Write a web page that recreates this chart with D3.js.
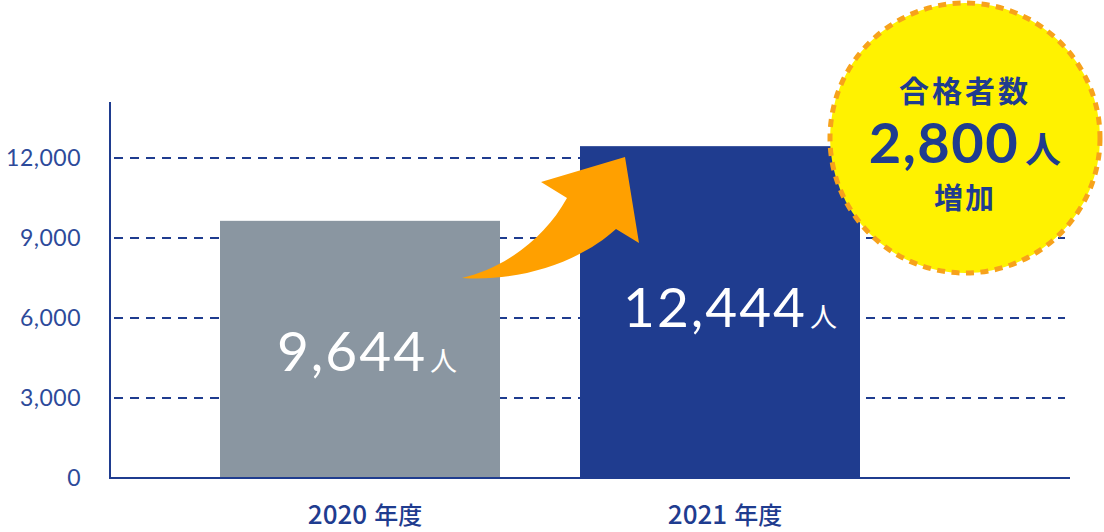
<!DOCTYPE html>
<html>
<head>
<meta charset="utf-8">
<script src="https://cdn.jsdelivr.net/npm/d3@7"></script>
<style>
  html, body { margin: 0; padding: 0; background: #fff; }
  svg { display: block; }
</style>
</head>
<body>
<div id="chart"></div>
<script>
// Data
const years = ["2020", "2021"]
const counts = [9644, 12444]
const yTicks = [0, 3000, 6000, 9000, 12000]
const increase = 2800

const BLUE = "#1f3c8f"
const GRAY = "#8a96a1"
const ORANGE = "#ffa000"

const width = 1104
const height = 532

const svg = d3.select("#chart").append("svg")
  .attr("width", width)
  .attr("height", height)
  .attr("viewBox", `0 0 ${width} ${height}`)

// Scales
const x = d3.scaleBand()
  .domain(years)
  .range([160, 920])
  .paddingInner(80 / 360)
  .paddingOuter(1 / 6)

const y = d3.scaleLinear()
  .domain([0, 14100])
  .range([478, 102])

const axisLeft = 110
const axisRight = 1070

// Dashed gridlines
svg.append("g")
  .selectAll("line")
  .data(yTicks.filter(d => d > 0))
  .enter().append("line")
  .attr("x1", axisLeft)
  .attr("x2", axisRight - 5)
  .attr("y1", d => y(d))
  .attr("y2", d => y(d))
  .attr("stroke", BLUE)
  .attr("stroke-width", 2)
  .attr("stroke-dasharray", "9,7")
  .attr("stroke-dashoffset", -4)

// Y tick labels
svg.append("g")
  .selectAll("text")
  .data(yTicks)
  .enter().append("text")
  .attr("x", 81)
  .attr("y", d => y(d))
  .attr("dy", "0.36em")
  .attr("text-anchor", "end")
  .attr("font-family", "Lato, 'Noto Sans', sans-serif")
  .attr("font-size", 23)
  .attr("letter-spacing", 0.5)
  .attr("fill", "#2d4a9a")
  .text(d => d3.format(",")(d))

// Bars
svg.append("g")
  .selectAll("rect")
  .data(counts)
  .enter().append("rect")
  .attr("x", (d, i) => x(years[i]))
  .attr("y", d => y(d))
  .attr("width", x.bandwidth())
  .attr("height", d => y(0) - y(d))
  .attr("fill", (d, i) => i === 0 ? GRAY : BLUE)

// Axis lines
svg.append("line")
  .attr("x1", axisLeft).attr("x2", axisLeft)
  .attr("y1", 102).attr("y2", y(0))
  .attr("stroke", BLUE).attr("stroke-width", 2)
svg.append("line")
  .attr("x1", axisLeft - 1).attr("x2", axisRight)
  .attr("y1", y(0)).attr("y2", y(0))
  .attr("stroke", BLUE).attr("stroke-width", 2)

// X labels
const xl = svg.append("g")
  .selectAll("text")
  .data(years)
  .enter().append("text")
  .attr("x", d => x(d) + x.bandwidth() / 2 + 5)
  .attr("y", 524)
  .attr("text-anchor", "middle")
  .attr("font-family", "'Noto Sans CJK JP', sans-serif")
  .attr("font-weight", 500)
  .attr("fill", BLUE)
xl.append("tspan")
  .attr("font-size", 26)
  .text(d => d)
xl.append("tspan")
  .attr("font-size", 24)
  .attr("dx", 7)
  .text("年度")

// Value labels inside bars
const labelOffset = [7, 10]
const vl = svg.append("g")
  .selectAll("text")
  .data(counts)
  .enter().append("text")
  .attr("x", (d, i) => x(years[i]) + x.bandwidth() / 2 + labelOffset[i])
  .attr("y", (d, i) => i === 0 ? 371 : 327)
  .attr("text-anchor", "middle")
  .attr("fill", "#fff")
  .attr("font-family", "Lato, 'Noto Sans', sans-serif")
vl.append("tspan")
  .attr("font-size", 55)
  .attr("letter-spacing", 2)
  .text(d => d3.format(",")(d))
vl.append("tspan")
  .attr("font-family", "'Noto Sans CJK JP', sans-serif")
  .attr("font-size", 27)
  .attr("dx", 3)
  .text("人")

// Curved orange arrow from bar 1 up to bar 2
const a = x(years[0]) + x.bandwidth()   // right edge of first bar
const b = x(years[1])                   // left edge of second bar
const arrowPath = d3.path()
arrowPath.moveTo(a - 38, 278)
arrowPath.bezierCurveTo(a + 20, 282, a + 80, 262, b + 36, 229)
arrowPath.lineTo(b + 59, 243)
arrowPath.lineTo(b + 45, 157)
arrowPath.lineTo(b - 39, 182)
arrowPath.lineTo(b - 13, 198)
arrowPath.bezierCurveTo(a + 45, 238, a + 5, 268, a - 38, 278)
arrowPath.closePath()
svg.append("path")
  .attr("d", arrowPath.toString())
  .attr("fill", ORANGE)

// Badge
const cx = 965, cy = 138, r = 135
const badge = svg.append("g")
badge.append("circle")
  .attr("cx", cx)
  .attr("cy", cy)
  .attr("r", r)
  .attr("fill", "#fff200")
  .attr("stroke", "#f7a21b")
  .attr("stroke-width", 5)
  .attr("stroke-dasharray", "8,6.5")

badge.append("text")
  .attr("x", cx)
  .attr("y", 102)
  .attr("text-anchor", "middle")
  .attr("font-family", "'Noto Sans CJK JP', sans-serif")
  .attr("font-weight", 700)
  .attr("font-size", 30)
  .attr("letter-spacing", 3)
  .attr("fill", BLUE)
  .text("合格者数")

badge.append("text")
  .attr("x", cx - 21)
  .attr("y", 163)
  .attr("text-anchor", "middle")
  .attr("font-family", "Lato, 'Noto Sans', sans-serif")
  .attr("font-weight", 700)
  .attr("font-size", 56)
  .attr("letter-spacing", 1.5)
  .attr("fill", BLUE)
  .text(d3.format(",")(increase))
badge.append("text")
  .attr("x", cx + 78)
  .attr("y", 163)
  .attr("text-anchor", "middle")
  .attr("font-family", "'Noto Sans CJK JP', sans-serif")
  .attr("font-weight", 700)
  .attr("font-size", 36)
  .attr("fill", BLUE)
  .text("人")

badge.append("text")
  .attr("x", cx)
  .attr("y", 209)
  .attr("text-anchor", "middle")
  .attr("font-family", "'Noto Sans CJK JP', sans-serif")
  .attr("font-weight", 700)
  .attr("font-size", 29)
  .attr("letter-spacing", 2)
  .attr("fill", BLUE)
  .text("増加")
</script>
</body>
</html>
